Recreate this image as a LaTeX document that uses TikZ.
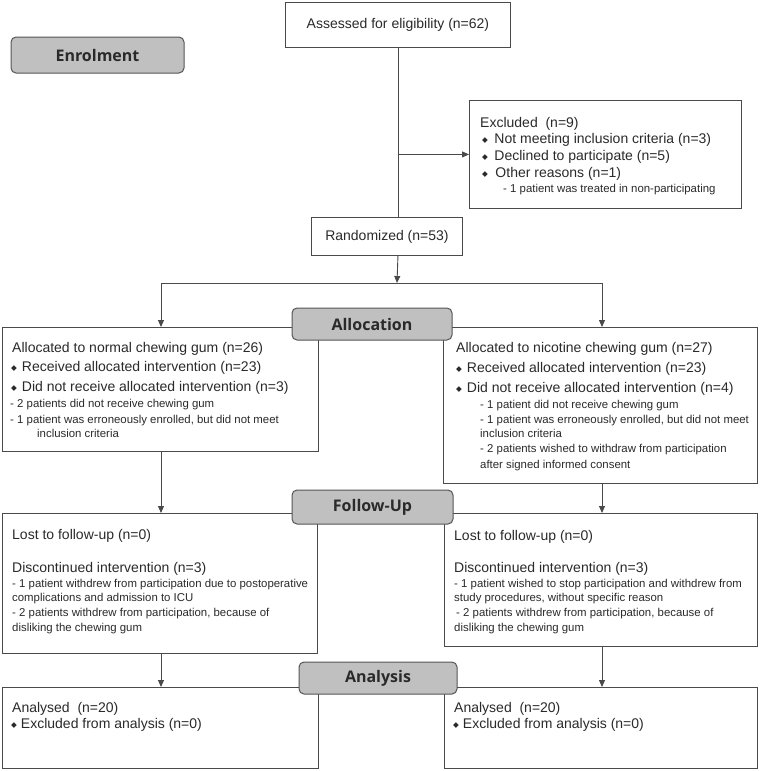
\documentclass[tikz,border=0pt]{standalone}
\usepackage{fontspec}
\setmainfont{Liberation Sans}
\newfontfamily\labelfont{Open Sans}
\newfontfamily\symfont{DejaVu Sans}
\usetikzlibrary{arrows.meta}
\definecolor{linec}{HTML}{4A4A4A}
\definecolor{stagec}{HTML}{555555}
\definecolor{stagefill}{HTML}{C0C0C0}
\definecolor{textc}{HTML}{2A2A2A}
\newcommand\bul{\raisebox{0.8pt}{\symfont\fontsize{7.5}{7.5}\selectfont ◆}}
\newcommand\putline[5]{\node[#1] (#2) at (#3,#4) {#5};}
\tikzset{
  box/.style={draw=linec, line width=0.9pt, fill=white, anchor=north west, inner sep=0pt},
  stage/.style={draw=stagec, line width=1pt, fill=stagefill, rounded corners=5pt, inner sep=0pt,
    font=\labelfont\bfseries\fontsize{16}{16}\selectfont, text=textc},
  main/.style={anchor=base west, inner sep=0pt, font=\fontsize{14}{14}\selectfont, text=textc},
  small/.style={anchor=base west, inner sep=0pt, font=\fontsize{11.4}{11.4}\selectfont, text=textc},
  ctr/.style={anchor=center, inner sep=0pt, font=\fontsize{14}{14}\selectfont, text=textc},
  conn/.style={draw=linec, line width=0.9pt},
  arr/.style={conn, -{Triangle[length=7pt,width=6pt]}},
}
\begin{document}
\begin{tikzpicture}[x=1pt,y=-1pt]
\fill[white] (0,0) rectangle (762,771);
\useasboundingbox (0,0) rectangle (762,771);

% ---------- boxes ----------
\node[box, minimum width=225pt, minimum height=45pt] (assess) at (285,2) {};
\node[ctr] (assessT) at (assess.center) {Assessed for eligibility (n=62)};

\node[box, minimum width=272pt, minimum height=108pt] (excl) at (469,100) {};
\node[box, minimum width=151pt, minimum height=38pt] (rand) at (311,217) {};
\node[ctr] (randT) at (rand.center) {Randomized (n=53)};

\node[box, minimum width=316pt, minimum height=124pt] (allocL) at (2,327) {};
\node[box, minimum width=314pt, minimum height=156pt] (allocR) at (443,327) {};

\node[box, minimum width=315pt, minimum height=140pt] (follL) at (2,513) {};
\node[box, minimum width=313pt, minimum height=133pt] (follR) at (444,513) {};

\node[box, minimum width=316pt, minimum height=81pt] (anaL) at (2,687) {};
\node[box, minimum width=313pt, minimum height=81pt] (anaR) at (444,687) {};

% ---------- connectors ----------
\coordinate (jx) at (assess.south |- excl.west);
\coordinate (rtop) at (assess.south |- rand.north);
\coordinate (rbot) at (assess.south |- rand.south);
\coordinate (split) at (397,283);
\coordinate (splitL) at (161,283);
\coordinate (splitR) at (602,283);
\coordinate (aLtop) at (splitL |- allocL.north);
\coordinate (aRtop) at (splitR |- allocR.north);
\coordinate (aLbot) at (splitL |- allocL.south);
\coordinate (aRbot) at (splitR |- allocR.south);
\coordinate (fLtop) at (splitL |- follL.north);
\coordinate (fRtop) at (splitR |- follR.north);
\coordinate (fLbot) at (splitL |- follL.south);
\coordinate (fRbot) at (splitR |- follR.south);
\coordinate (nLtop) at (splitL |- anaL.north);
\coordinate (nRtop) at (splitR |- anaR.north);

\draw[conn] (assess.south) -- (rtop);
\draw[arr] (jx) -- (excl.west);
\draw[arr] (rbot) -- (split);
\draw[conn] (splitL) -- (splitR);
\draw[arr] (splitL) -- (aLtop);
\draw[arr] (splitR) -- (aRtop);
\draw[arr] (aLbot) -- (fLtop);
\draw[arr] (aRbot) -- (fRtop);
\draw[arr] (fLbot) -- (nLtop);
\draw[arr] (fRbot) -- (nRtop);

% ---------- stage labels ----------
\node[stage, minimum width=173pt, minimum height=36pt] (enrol) at (97.5,55) {Enrolment};
\node[stage, minimum width=160pt, minimum height=32pt] (allocS) at (372,324) {Allocation};
\node[stage, minimum width=161pt, minimum height=34pt] (follS) at (372.5,507) {Follow-Up};
\node[stage, minimum width=158pt, minimum height=32pt] (anaS) at (378,678) {Analysis};

% ---------- excluded text ----------
\putline{main}{e1}{480}{127}{Excluded\ \ (n=9)}
\putline{main}{e2}{482}{143}{\bul\hspace{6.5pt}Not meeting inclusion criteria (n=3)}
\putline{main}{e3}{482}{160}{\bul\hspace{6.5pt}Declined to participate (n=5)}
\putline{main}{e4}{482}{177}{\bul\hspace{7.5pt}Other reasons (n=1)}
\putline{small}{e5}{503}{192}{- 1 patient was treated in non-participating}

% ---------- allocation left ----------
\putline{main}{l1}{12}{352}{Allocated to normal chewing gum (n=26)}
\putline{main}{l2}{11}{371}{\bul\hspace{5pt}Received allocated intervention (n=23)}
\putline{main}{l3}{11}{391}{\bul\hspace{5pt}Did not receive allocated intervention (n=3)}
\putline{small}{l4}{10}{407}{- 2 patients did not receive chewing gum}
\putline{small}{l5}{10}{423}{- 1 patient was erroneously enrolled, but did not meet}
\putline{small}{l6}{37}{437}{inclusion criteria}

% ---------- allocation right ----------
\putline{main}{r1}{456}{352}{Allocated to nicotine chewing gum (n=27)}
\putline{main}{r2}{456}{372}{\bul\hspace{5pt}Received allocated intervention (n=23)}
\putline{main}{r3}{456}{392}{\bul\hspace{5pt}Did not receive allocated intervention (n=4)}
\putline{small}{r4}{480}{408}{- 1 patient did not receive chewing gum}
\putline{small}{r5}{480}{423}{- 1 patient was erroneously enrolled, but did not meet}
\putline{small}{r6}{480}{437}{inclusion criteria}
\putline{small}{r7}{480}{452}{- 2 patients wished to withdraw from participation}
\putline{small}{r8}{480}{468}{after signed informed consent}

% ---------- follow-up left ----------
\putline{main}{fl1}{12}{539}{Lost to follow-up (n=0)}
\putline{main}{fl2}{12}{572}{Discontinued intervention (n=3)}
\putline{small}{fl3}{12}{587}{- 1 patient withdrew from participation due to postoperative}
\putline{small}{fl4}{12}{601}{complications and admission to ICU}
\putline{small}{fl5}{12}{616}{- 2 patients withdrew from participation, because of}
\putline{small}{fl6}{12}{631}{disliking the chewing gum}

% ---------- follow-up right ----------
\putline{main}{fr1}{454}{540}{Lost to follow-up (n=0)}
\putline{main}{fr2}{454}{572}{Discontinued intervention (n=3)}
\putline{small}{fr3}{454}{587}{- 1 patient wished to stop participation and withdrew from}
\putline{small}{fr4}{454}{601}{study procedures, without specific reason}
\putline{small}{fr5}{456}{616}{- 2 patients withdrew from participation, because of}
\putline{small}{fr6}{454}{631}{disliking the chewing gum}

% ---------- analysis ----------
\putline{main}{al1}{12}{712}{Analysed\ \ (n=20)}
\putline{main}{al2}{11}{728}{\bul\hspace{4pt}Excluded from analysis (n=0)}
\putline{main}{ar1}{454}{712}{Analysed\ \ (n=20)}
\putline{main}{ar2}{453}{728}{\bul\hspace{4pt}Excluded from analysis (n=0)}
\end{tikzpicture}
\end{document}
